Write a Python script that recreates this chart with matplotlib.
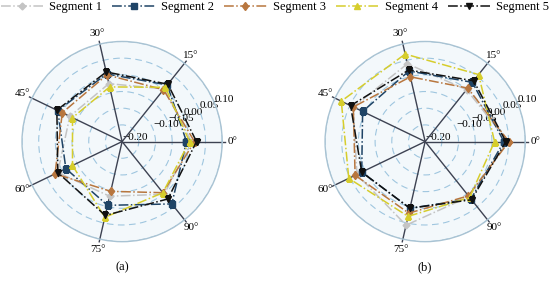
import numpy as np
import matplotlib
matplotlib.use("Agg")
import matplotlib.pyplot as plt
from matplotlib.lines import Line2D

plt.rcParams['font.family'] = ['Liberation Serif', 'DejaVu Serif']

categories = ['0°', '15°', '30°', '45°', '60°', '75°', '90°']
series_names = ['Segment 1', 'Segment 2', 'Segment 3', 'Segment 4', 'Segment 5']

# panel (a)
a_seg1 = [0.008, 0.002, -0.022, -0.026, 0.014, -0.032, 0.002]
a_seg2 = [-0.007, 0.017, 0.008, 0.014, -0.013, -0.004, 0.039]
a_seg3 = [0.017, -0.001, 0.005, -0.001, 0.023, -0.047, -0.004]
a_seg4 = [0.002, 0.008, -0.032, -0.035, -0.035, 0.033, -0.004]
a_seg5 = [0.023, 0.020, 0.014, 0.017, 0.014, 0.027, 0.020]

# panel (b)
b_seg1 = [0.048, -0.001, 0.039, 0.039, 0.027, 0.057, 0.011]
b_seg2 = [0.036, 0.027, 0.017, 0.008, 0.011, 0.005, 0.020]
b_seg3 = [0.051, 0.005, -0.001, 0.039, 0.033, 0.020, 0.008]
b_seg4 = [0.008, 0.057, 0.069, 0.079, 0.054, 0.030, 0.014]
b_seg5 = [0.042, 0.033, 0.020, 0.048, 0.011, 0.005, 0.023]

r_ticks = [-0.20, -0.15, -0.10, -0.05, 0.00, 0.05, 0.10]
r_ticklabels = ['\u22120.20', '', '\u22120.10', '\u22120.05', '0.00', '0.05', '0.10']

colors = ['#c4c4c4', '#1f4466', '#b8763e', '#d6cd2c', '#111111']
markers = ['D', 's', 'd', '^', 'v']
msizes = [3.5, 4, 4.5, 4.5, 4.5]

fig = plt.figure(figsize=(5.5, 2.86), dpi=100)

theta = np.linspace(0, 2 * np.pi, len(categories), endpoint=False)


def radar(rect, data, label):
    ax = fig.add_axes(rect, projection='polar')
    ax.set_facecolor('#f3f8fb')
    ax.set_ylim(-0.2, 0.1)
    ax.set_yticks(r_ticks)
    ax.set_yticklabels(r_ticklabels, fontsize=8)
    ax.set_rlabel_position(22)
    ax.yaxis.grid(True, linestyle=(0, (6, 4)), color='#9fc6df', lw=0.8)
    ax.xaxis.grid(False)
    ax.set_xticks(theta)
    ax.set_xticklabels(categories, fontsize=8)
    ax.tick_params(axis='x', pad=-3)
    ax.spines['polar'].set_color('#a9c3d3')
    ax.spines['polar'].set_linewidth(1.0)
    for t in theta:
        ax.plot([t, t], [-0.2, 0.108], color='#3d4252', lw=1.0, clip_on=False, zorder=2)
    for vals, c, m, ms in zip(data, colors, markers, msizes):
        v = list(vals) + [vals[0]]
        t = list(theta) + [theta[0]]
        ax.plot(t, v, linestyle='-.', color=c, lw=1.1, marker=m, markersize=ms, zorder=3)
    x0 = rect[0] + rect[2] / 2
    fig.text(x0, 0.065, label, ha='center', va='center', fontsize=9)
    return ax


radar([0.04, 0.155, 0.364, 0.70], [a_seg1, a_seg2, a_seg3, a_seg4, a_seg5], '(a)')
radar([0.591, 0.155, 0.364, 0.70], [b_seg1, b_seg2, b_seg3, b_seg4, b_seg5], '(b)')

handles = [Line2D([], [], linestyle='-.', color=c, marker=m, markersize=ms, lw=1.1)
           for c, m, ms in zip(colors, markers, msizes)]
fig.legend(handles, series_names, loc='upper center', bbox_to_anchor=(0.5, 1.035), ncol=5,
           frameon=False, fontsize=9, handlelength=3.4, handletextpad=0.5, columnspacing=0.8)

plt.savefig('out.png', dpi=100)
